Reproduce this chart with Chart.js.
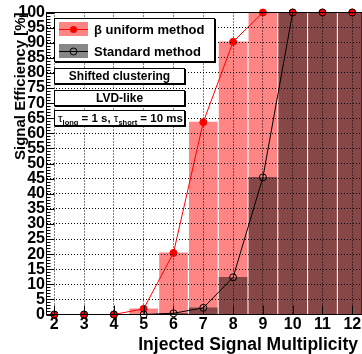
<!DOCTYPE html>
<html>
<head>
<meta charset="utf-8">
<script src="https://cdn.jsdelivr.net/npm/chart.js@4/dist/chart.umd.min.js"></script>
<style>
  html, body { margin: 0; padding: 0; background: #fff; }
</style>
</head>
<body>
<canvas id="chart" width="362" height="354"></canvas>
<script>
// injected signal multiplicity (bin centres)
const multiplicity = [2, 3, 4, 5, 6, 7, 8, 9, 10, 11, 12];
// signal efficiency [%]
const betaUniform = [0, 0, 0, 1.9, 20.4, 63.7, 90.3, 100, 100, 100, 100];
const standard = [0, 0, 0, 0, 0.4, 2.2, 12.3, 45.4, 100, 100, 100];
const yTicks = [0, 5, 10, 15, 20, 25, 30, 35, 40, 45, 50, 55, 60, 65, 70, 75, 80, 85, 90, 95, 100];

const FONT = "'Liberation Sans', Arial, Helvetica, sans-serif";
const RED_FILL = "rgba(255,0,0,0.48)";
const DARK_FILL = "rgba(0,0,0,0.47)";

const pts = vals => multiplicity.map((m, i) => ({ x: m, y: vals[i] }));

function shadowBox(ctx, x, y, w, h) {
  ctx.fillStyle = "#000";
  ctx.fillRect(x + 1, y + 1, w, h);
  ctx.fillStyle = "#fff";
  ctx.fillRect(x, y, w, h);
  ctx.strokeStyle = "#000";
  ctx.lineWidth = 1;
  ctx.strokeRect(x + 0.5, y + 0.5, w - 1, h - 1);
}

const decorations = {
  id: "decorations",
  afterDraw(chart) {
    const ctx = chart.ctx;
    const a = chart.chartArea;
    const xs = chart.scales.x, ys = chart.scales.y;
    ctx.save();

    // frame
    ctx.strokeStyle = "#000";
    ctx.lineWidth = 1;
    ctx.strokeRect(a.left, a.top, a.right - a.left, a.bottom - a.top);

    // inward ticks on y (major every 5, minor every 1)
    ctx.beginPath();
    for (let v = 0; v <= 100; v++) {
      const py = Math.round(ys.getPixelForValue(v)) + 0.5;
      const len = v % 5 === 0 ? 8 : 4;
      ctx.moveTo(a.left, py);
      ctx.lineTo(a.left + len, py);
    }
    // inward ticks on x
    multiplicity.forEach(m => {
      const px = Math.round(xs.getPixelForValue(m)) + 0.5;
      ctx.moveTo(px, a.bottom);
      ctx.lineTo(px, a.bottom - 9);
    });
    ctx.stroke();

    // legend
    shadowBox(ctx, 54, 18, 161, 44);
    ctx.fillStyle = RED_FILL;
    ctx.fillRect(59, 22, 29, 14);
    ctx.fillStyle = DARK_FILL;
    ctx.fillRect(59, 44, 29, 14);
    ctx.lineWidth = 1;
    ctx.strokeStyle = "red";
    ctx.beginPath(); ctx.moveTo(59, 29.5); ctx.lineTo(88, 29.5); ctx.stroke();
    ctx.fillStyle = "red";
    ctx.beginPath(); ctx.arc(73.5, 29.5, 3.5, 0, Math.PI * 2); ctx.fill();
    ctx.strokeStyle = "#000";
    ctx.beginPath(); ctx.moveTo(59, 51.5); ctx.lineTo(88, 51.5); ctx.stroke();
    ctx.beginPath(); ctx.arc(73.5, 51.5, 3.5, 0, Math.PI * 2); ctx.stroke();

    ctx.fillStyle = "#000";
    ctx.textAlign = "left";
    ctx.textBaseline = "middle";
    ctx.font = "bold 13px " + FONT;
    ctx.fillText("\u03b2 uniform method", 94, 30);
    ctx.fillText("Standard method", 94, 52);

    // text boxes
    shadowBox(ctx, 54, 68, 131, 16);
    shadowBox(ctx, 54, 90, 131, 16);
    shadowBox(ctx, 54, 110, 131, 16);
    ctx.fillStyle = "#000";
    ctx.textAlign = "center";
    ctx.font = "bold 12px " + FONT;
    ctx.fillText("Shifted clustering", 119.5, 76.5);
    ctx.fillText("LVD-like", 119.5, 98.5);

    // tau line with subscripts
    ctx.textAlign = "left";
    ctx.textBaseline = "alphabetic";
    let x = 58;
    const base = 121.5;
    const parts = [
      ["\u03c4", "11.5px " + FONT, 0],
      ["long", "bold 7.5px " + FONT, 3],
      [" = 1 s, ", "bold 11.5px " + FONT, 0],
      ["\u03c4", "11.5px " + FONT, 0],
      ["short", "bold 7.5px " + FONT, 3],
      [" = 10 ms", "bold 11.5px " + FONT, 0]
    ];
    parts.forEach(([t, f, dy]) => {
      ctx.font = f;
      ctx.fillText(t, x, base + dy);
      x += ctx.measureText(t).width;
    });

    // axis titles
    ctx.font = "bold 17.5px " + FONT;
    ctx.textAlign = "right";
    ctx.fillText("Injected Signal Multiplicity", 358, 350);

    ctx.translate(25, a.top);
    ctx.rotate(-Math.PI / 2);
    ctx.font = "bold 15px " + FONT;
    ctx.textAlign = "right";
    ctx.fillText("Signal Efficiency [%]", 0, 0);

    ctx.restore();
  }
};

new Chart(document.getElementById("chart"), {
  type: "bar",
  data: {
    datasets: [
      {
        type: "line",
        label: "\u03b2 uniform method",
        data: pts(betaUniform),
        borderColor: "red",
        borderWidth: 1,
        pointRadius: 3.5,
        pointBackgroundColor: "red",
        pointBorderColor: "red",
        pointBorderWidth: 1,
        clip: false,
        order: 1
      },
      {
        type: "line",
        label: "Standard method",
        data: pts(standard),
        borderColor: "#000",
        borderWidth: 1,
        pointRadius: 3.5,
        pointBackgroundColor: "rgba(0,0,0,0)",
        pointBorderColor: "#000",
        pointBorderWidth: 1,
        clip: false,
        order: 0
      },
      {
        label: "\u03b2 uniform method",
        data: pts(betaUniform),
        backgroundColor: RED_FILL,
        barThickness: 28,
        grouped: false,
        order: 3
      },
      {
        label: "Standard method",
        data: pts(standard),
        backgroundColor: DARK_FILL,
        barThickness: 28,
        grouped: false,
        order: 2
      }
    ]
  },
  options: {
    responsive: false,
    animation: false,
    devicePixelRatio: 1,
    layout: { autoPadding: false, padding: { top: 12.5, left: 0, right: 0, bottom: 0 } },
    plugins: { legend: { display: false }, tooltip: { enabled: false } },
    scales: {
      x: {
        type: "linear",
        offset: false,
        min: 1.738,
        max: 12.326,
        afterBuildTicks: s => { s.ticks = multiplicity.map(v => ({ value: v })); },
        afterFit: s => { s.height = 39.5; s.paddingLeft = 0; s.paddingRight = 0; },
        grid: { color: "#000", lineWidth: 1, drawTicks: false, offset: false, z: 1 },
        border: { display: false, dash: [1, 2] },
        ticks: {
          padding: 0,
          color: "#000",
          autoSkip: false,
          maxRotation: 0,
          font: { family: FONT, size: 16, weight: "bold" }
        }
      },
      y: {
        min: 0,
        max: 100,
        afterBuildTicks: s => { s.ticks = yTicks.map(v => ({ value: v })); },
        afterFit: s => { s.width = 46.5; },
        grid: { color: "#000", lineWidth: 1, drawTicks: false, z: 1 },
        border: { display: false, dash: [1, 2] },
        ticks: {
          padding: 1.5,
          color: "#000",
          autoSkip: false,
          font: { family: FONT, size: 16, weight: "bold" }
        }
      }
    }
  },
  plugins: [decorations]
});
</script>
</body>
</html>
